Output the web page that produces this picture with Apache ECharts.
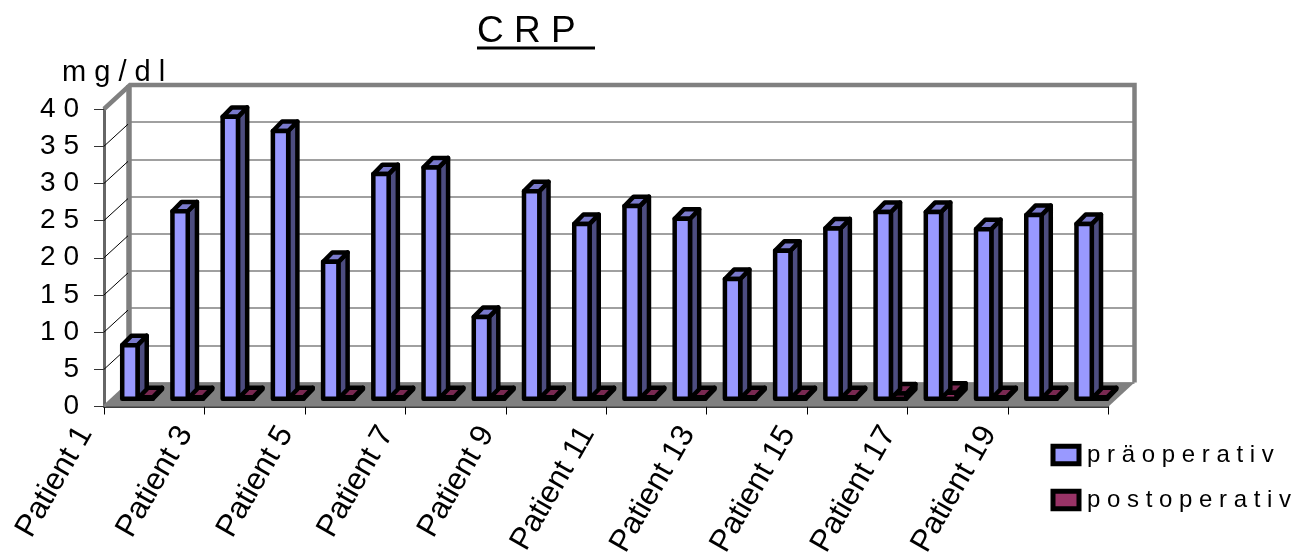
<!DOCTYPE html>
<html>
    <head>
        <meta charset="utf-8">
        <script src="https://cdn.jsdelivr.net/npm/echarts@6/dist/echarts.min.js"></script>
        <style>
            html, body { margin: 0; padding: 0; background: #fff; }
        </style>
    </head>
    <body>
        <div id="main" style="width: 1316px; height: 560px;"></div>
        <script>
            var patients = ['Patient 1', 'Patient 2', 'Patient 3', 'Patient 4', 'Patient 5', 'Patient 6', 'Patient 7',
                'Patient 8', 'Patient 9', 'Patient 10', 'Patient 11', 'Patient 12', 'Patient 13', 'Patient 14',
                'Patient 15', 'Patient 16', 'Patient 17', 'Patient 18', 'Patient 19', 'Patient 20'];
            var praeoperativ = [7.2, 25.2, 37.9, 36.0, 18.4, 30.2, 31.1, 11.0, 27.9, 23.5,
                25.9, 24.2, 16.1, 19.9, 22.9, 25.1, 25.1, 22.8, 24.7, 23.5];
            var postoperativ = [0.2, 0.2, 0.2, 0.2, 0.2, 0.2, 0.2, 0.2, 0.2, 0.2,
                0.2, 0.2, 0.2, 0.2, 0.2, 0.7, 0.8, 0.2, 0.2, 0.2];
            var yTicks = [0, 5, 10, 15, 20, 25, 30, 35, 40];

            var myChart = echarts.init(document.getElementById('main'));
            var font = '"Liberation Sans", Arial, sans-serif';
            var grey = '#808080';
            // 3D look: the back wall sits this far from the front plane
            var wallDx = 26, wallDy = 24;
            var barDx = 9.2, barDy = 9.4, barLift = 7.8;

            function spaced(s) {
                return String(s).split('').join(' ');
            }

            function barRender(fill, top, side, shift) {
                return function (params, api) {
                    var p = api.coord([api.value(0), api.value(1)]);
                    var zero = api.coord([api.value(0), 0]);
                    var w = api.size([1, 0])[0] * 0.305;
                    var x0 = p[0] - w / 2 + shift * w + 0.75;
                    var x1 = x0 + w;
                    var y0 = p[1] - barLift;
                    var y1 = zero[1] - barLift;
                    var line = { stroke: '#000', lineWidth: 4.5, lineJoin: 'round' };
                    return {
                        type: 'group',
                        children: [{
                            type: 'polygon',
                            shape: { points: [[x1, y0], [x1 + barDx, y0 - barDy], [x1 + barDx, y1 - barDy], [x1, y1]] },
                            style: Object.assign({ fill: side }, line)
                        }, {
                            type: 'polygon',
                            shape: { points: [[x0, y0], [x0 + barDx, y0 - barDy], [x1 + barDx, y0 - barDy], [x1, y0]] },
                            style: Object.assign({ fill: top }, line)
                        }, {
                            type: 'rect',
                            shape: { x: x0, y: y0, width: w, height: y1 - y0 },
                            style: Object.assign({ fill: fill }, line)
                        }]
                    };
                };
            }

            // floor, walls and the thin lines on the left wall
            function wallRender(params, api) {
                var bl = api.coord([0, 0]), tl = api.coord([0, 40]), br = api.coord([19, 0]);
                var w = api.size([1, 0])[0];
                var l = bl[0] - w / 2, r = br[0] + w / 2;
                var y0 = bl[1], y1 = tl[1];
                var children = [{
                    type: 'polygon',
                    shape: { points: [[l, y0], [r, y0], [r + wallDx, y0 - wallDy], [l + wallDx, y0 - wallDy]] },
                    style: { fill: grey }
                }, {
                    type: 'polyline',
                    shape: { points: [[l, y1], [l + wallDx, y1 - wallDy], [r + wallDx, y1 - wallDy], [r + wallDx, y0 - wallDy]] },
                    style: { fill: 'none', stroke: grey, lineWidth: 4.5 }
                }, {
                    type: 'line',
                    shape: { x1: l + wallDx - 1, y1: y1 - wallDy, x2: l + wallDx - 1, y2: y0 - wallDy },
                    style: { stroke: grey, lineWidth: 5.5 }
                }, {
                    type: 'line',
                    shape: { x1: l, y1: y0, x2: l + wallDx, y2: y0 - wallDy },
                    style: { stroke: grey, lineWidth: 3 }
                }];
                yTicks.forEach(function (t) {
                    if (t === 0 || t === 40) return;
                    var y = api.coord([0, t])[1];
                    children.push({
                        type: 'line',
                        shape: { x1: l, y1: y, x2: l + wallDx - 2, y2: y - wallDy + 2 },
                        style: { stroke: '#000', lineWidth: 1 }
                    });
                });
                return { type: 'group', children: children };
            }

            var option = {
                animation: false,
                backgroundColor: '#fff',
                textStyle: { fontFamily: font },
                title: [{
                    text: 'C R P',
                    left: 477, top: 13, padding: 0,
                    textStyle: { fontFamily: font, fontSize: 37, fontWeight: 'normal', color: '#000' }
                }, {
                    text: 'm g / d l',
                    left: 62, top: 58, padding: 0,
                    textStyle: { fontFamily: font, fontSize: 29, fontWeight: 'normal', color: '#000' }
                }],
                graphic: [{
                    type: 'rect',
                    shape: { x: 477, y: 46.5, width: 118, height: 3 },
                    style: { fill: '#000' }
                }],
                legend: {
                    data: ['präoperativ', 'postoperativ'],
                    orient: 'vertical',
                    left: 1050.5, top: 443, padding: 0,
                    icon: 'rect',
                    itemWidth: 26, itemHeight: 17.5,
                    itemGap: 21,
                    itemStyle: { borderColor: '#000', borderWidth: 5 },
                    formatter: spaced,
                    textStyle: { fontFamily: font, fontSize: 24, color: '#000', padding: [0, 0, 0, 3] }
                },
                grid: [
                    { left: 104, top: 109, width: 1004.5, height: 297.5 },
                    { left: 130, top: 85, width: 1004.5, height: 297.5 },
                    { left: 60, top: 109, width: 1004.5, height: 297.5 }
                ],
                xAxis: [{
                    type: 'category', gridIndex: 0, data: patients,
                    axisLine: { lineStyle: { color: '#000', width: 1.5 } },
                    axisTick: { show: true, length: 8, lineStyle: { color: '#000', width: 1 } },
                    axisLabel: { show: false }
                }, {
                    type: 'category', gridIndex: 1, data: patients, show: false
                }, {
                    type: 'category', gridIndex: 2, data: patients,
                    axisLine: { show: false },
                    axisTick: { show: false },
                    axisLabel: {
                        interval: 1, rotate: 60, margin: 24,
                        fontFamily: font, fontSize: 31, color: '#000'
                    }
                }],
                yAxis: [{
                    type: 'value', gridIndex: 0, min: 0, max: 40, interval: 5,
                    axisLine: { show: true, lineStyle: { color: '#666', width: 3 } },
                    axisTick: { show: true, length: 10, lineStyle: { color: '#333', width: 1 } },
                    splitLine: { show: false },
                    axisLabel: {
                        margin: 25,
                        formatter: spaced,
                        fontFamily: font, fontSize: 28, color: '#000'
                    }
                }, {
                    type: 'value', gridIndex: 1, min: 0, max: 40, interval: 5,
                    axisLine: { show: false }, axisTick: { show: false }, axisLabel: { show: false },
                    splitLine: { show: true, lineStyle: { color: grey, width: 1.5 } }
                }, {
                    type: 'value', gridIndex: 2, min: 0, max: 40, show: false, splitLine: { show: false }
                }],
                series: [{
                    type: 'custom', name: 'walls', xAxisIndex: 0, yAxisIndex: 0, silent: true, z: 1, clip: false,
                    renderItem: wallRender,
                    data: [[0, 0]]
                }, {
                    type: 'custom', name: 'postoperativ', xAxisIndex: 0, yAxisIndex: 0, z: 3, clip: false,
                    itemStyle: { color: '#993366' },
                    renderItem: barRender('#993366', '#7a2952', '#4d1a33', 1),
                    encode: { x: 0, y: 1 },
                    data: patients.map(function (p, i) { return [i, postoperativ[i]]; })
                }, {
                    type: 'custom', name: 'präoperativ', xAxisIndex: 0, yAxisIndex: 0, z: 4, clip: false,
                    itemStyle: { color: '#9999ff' },
                    renderItem: barRender('#9999ff', '#7a7acc', '#4d4d80', 0),
                    encode: { x: 0, y: 1 },
                    data: patients.map(function (p, i) { return [i, praeoperativ[i]]; })
                }]
            };

            myChart.setOption(option);
        </script>
    </body>
</html>
